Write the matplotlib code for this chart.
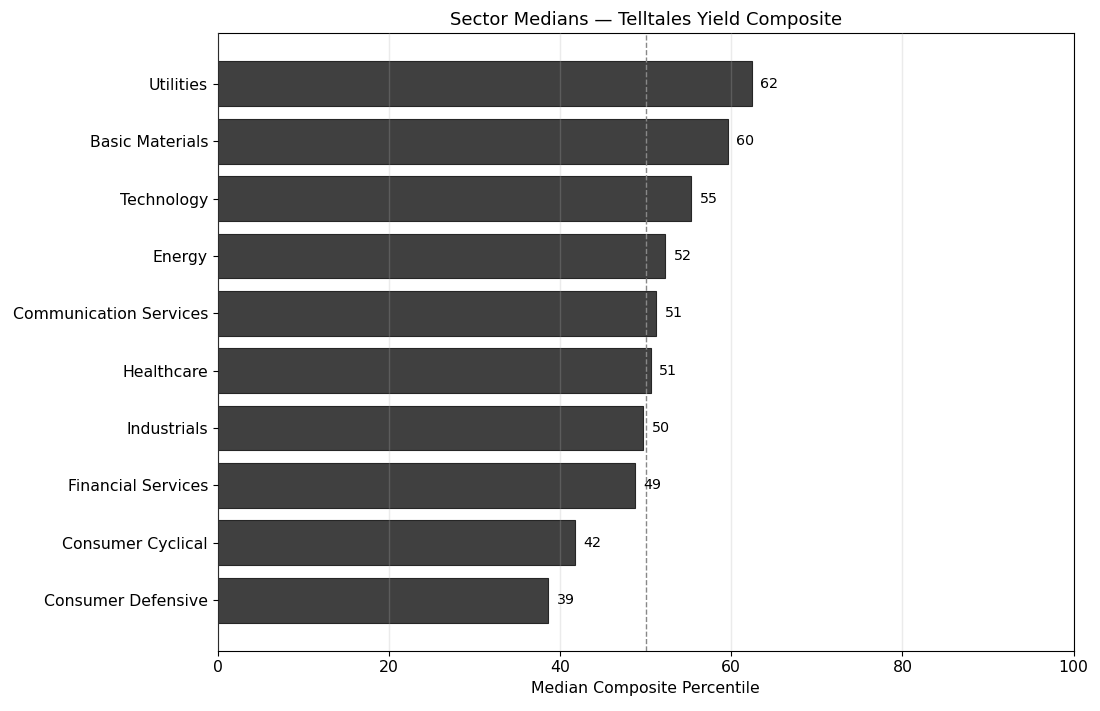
import matplotlib
matplotlib.use("Agg")
import matplotlib.pyplot as plt

# ── Data ──────────────────────────────────────────────────────────
SECTORS = [
    "Consumer Defensive", "Consumer Cyclical", "Financial Services",
    "Industrials", "Healthcare", "Communication Services",
    "Energy", "Technology", "Basic Materials", "Utilities",
]
MEDIANS = [38.6, 41.7, 48.7, 49.7, 50.6, 51.2, 52.3, 55.3, 59.6, 62.4]

# ── Figure ────────────────────────────────────────────────────────
fig, ax = plt.subplots(figsize=(11.0, 7.11), dpi=100)
fig.subplots_adjust(left=0.198, right=0.976, top=0.953, bottom=0.085)

bars = ax.barh(SECTORS, MEDIANS, height=0.78, color="#404040",
               edgecolor="#262626", linewidth=0.8, zorder=2)

# light grid drawn over the bars
ax.set_axisbelow(False)
ax.grid(True, axis="x", color="#b0b0b0", alpha=0.25, linewidth=1.0, zorder=2.5)

ax.axvline(50, color="#888888", linestyle="--", linewidth=1.0, zorder=3)

for b, v in zip(bars, MEDIANS):
    ax.text(v + 1.0, b.get_y() + b.get_height() / 2, f"{v:.0f}",
            va="center", ha="left", fontsize=10.3, color="black")

ax.set_xlim(0, 100)
ax.set_xlabel("Median Composite Percentile", fontsize=11.3)
ax.set_title("Sector Medians \u2014 Telltales Yield Composite", fontsize=13)
ax.tick_params(axis="both", labelsize=11.3)

fig.savefig("out.png", dpi=100)
